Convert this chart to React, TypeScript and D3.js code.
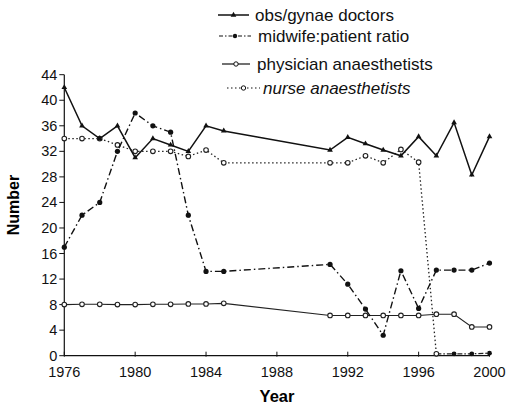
import React, { useEffect, useRef } from "react";
import * as d3 from "d3";

// values
const obsYears = [1976, 1977, 1978, 1979, 1980, 1981, 1982, 1983, 1984, 1985, 1991, 1992, 1993, 1994, 1995, 1996, 1997, 1998, 1999, 2000];
const obsValues = [42, 36, 34, 36, 31, 34, 33, 32, 36, 35.2, 32.2, 34.2, 33.2, 32.2, 31.3, 34.3, 31.3, 36.5, 28.3, 34.3];

const midwifeYears = [1976, 1977, 1978, 1979, 1980, 1981, 1982, 1983, 1984, 1985, 1991, 1992, 1993, 1994, 1995, 1996, 1997, 1998, 1999, 2000];
const midwifeValues = [17, 22, 24, 32, 38, 36, 35, 22, 13.2, 13.2, 14.3, 11.2, 7.3, 3.2, 13.3, 7.4, 13.4, 13.4, 13.4, 14.5];

const physicianYears = [1976, 1977, 1978, 1979, 1980, 1981, 1982, 1983, 1984, 1985, 1991, 1992, 1993, 1994, 1995, 1996, 1997, 1998, 1999, 2000];
const physicianValues = [8, 8.05, 8.05, 8, 8, 8.05, 8.05, 8.1, 8.1, 8.2, 6.3, 6.3, 6.3, 6.3, 6.3, 6.3, 6.5, 6.5, 4.5, 4.5];

const nurseYears = [1976, 1977, 1978, 1979, 1980, 1981, 1982, 1983, 1984, 1985, 1991, 1992, 1993, 1994, 1995, 1996, 1997];
const nurseValues = [34, 34, 34, 33, 32, 32, 32, 31.2, 32.2, 30.2, 30.2, 30.2, 31.3, 30.2, 32.3, 30.3, 0.3];

// unlabelled tail along zero
const tailYears = [1997, 1998, 1999, 2000];
const tailValues = [0.3, 0.3, 0.3, 0.4];

const xTicks = [1976, 1980, 1984, 1988, 1992, 1996, 2000];
const yTicks = [0, 4, 8, 12, 16, 20, 24, 28, 32, 36, 40, 44];

const legendLabels = ["obs/gynae doctors", "midwife:patient ratio", "physician anaesthetists", "nurse anaesthetists"];

const App = () => {
  const svgRef = useRef<SVGSVGElement>(null);

  useEffect(() => {
    const svg = d3.select(svgRef.current);
    svg.selectAll("*").remove();

    const width = 509;
    const height = 407;
    const font = "Arial, 'Liberation Sans', sans-serif";

    const x = d3.scaleLinear().domain([1976, 2000]).range([64.3, 489.5]);
    const y = d3.scaleLinear().domain([0, 44]).range([355.7, 74.7]);

    svg.attr("width", width).attr("height", height);

    // axes
    const xAxis = svg.append("g").attr("transform", `translate(0,${y(0)})`);
    xAxis.append("line").attr("x1", x(1976)).attr("x2", x(2000)).attr("stroke", "#111").attr("stroke-width", 1.2);
    xAxis.selectAll("line.tick").data(xTicks).enter().append("line")
      .attr("x1", d => x(d)).attr("x2", d => x(d)).attr("y1", -4).attr("y2", 1)
      .attr("stroke", "#111").attr("stroke-width", 1);
    xAxis.selectAll("text").data(xTicks).enter().append("text")
      .attr("x", d => x(d)).attr("y", 21)
      .attr("text-anchor", "middle")
      .style("font-family", font).style("font-size", "14.5px").style("fill", "#111")
      .text(d => d);

    const yAxis = svg.append("g").attr("transform", `translate(${x(1976)},0)`);
    yAxis.append("line").attr("y1", y(0)).attr("y2", y(44)).attr("stroke", "#111").attr("stroke-width", 1.2);
    yAxis.selectAll("line.tick").data(yTicks).enter().append("line")
      .attr("x1", -5).attr("x2", 0).attr("y1", d => y(d)).attr("y2", d => y(d))
      .attr("stroke", "#111").attr("stroke-width", 1);
    yAxis.selectAll("text").data(yTicks).enter().append("text")
      .attr("x", -7).attr("y", d => y(d) + 5)
      .attr("text-anchor", "end")
      .style("font-family", font).style("font-size", "14.5px").style("fill", "#111")
      .text(d => d);

    svg.append("text")
      .attr("x", 277).attr("y", 402)
      .attr("text-anchor", "middle")
      .style("font-family", font).style("font-size", "16.5px").style("font-weight", "bold")
      .text("Year");

    svg.append("text")
      .attr("transform", "translate(19,205) rotate(-90)")
      .attr("text-anchor", "middle")
      .style("font-family", font).style("font-size", "16px").style("font-weight", "bold")
      .text("Number");

    const line = d3.line<[number, number]>().x(d => x(d[0])).y(d => y(d[1]));
    const zip = (ys: number[], vs: number[]) => ys.map((yr, i) => [yr, vs[i]] as [number, number]);

    const tri = d3.symbol().type(d3.symbolTriangle).size(14);

    // physician anaesthetists
    const phys = zip(physicianYears, physicianValues);
    svg.append("path").attr("d", line(phys)).attr("fill", "none").attr("stroke", "#222").attr("stroke-width", 1.1);
    svg.selectAll("circle.phys").data(phys).enter().append("circle")
      .attr("cx", d => x(d[0])).attr("cy", d => y(d[1])).attr("r", 2.3)
      .attr("fill", "white").attr("stroke", "#222").attr("stroke-width", 1.1);

    // nurse anaesthetists
    const nurse = zip(nurseYears, nurseValues);
    svg.append("path").attr("d", line(nurse)).attr("fill", "none").attr("stroke", "#222")
      .attr("stroke-width", 1.3).attr("stroke-dasharray", "1.5,2.5");
    const tail = zip(tailYears, tailValues);
    svg.append("path").attr("d", line(tail)).attr("fill", "none").attr("stroke", "#222")
      .attr("stroke-width", 1.3).attr("stroke-dasharray", "5,2,1.5,2");
    svg.selectAll("circle.tail").data(tail.slice(1)).enter().append("circle")
      .attr("cx", d => x(d[0])).attr("cy", d => y(d[1])).attr("r", 2.4).attr("fill", "#111");
    svg.selectAll("circle.nurse").data(nurse).enter().append("circle")
      .attr("cx", d => x(d[0])).attr("cy", d => y(d[1])).attr("r", 2.3)
      .attr("fill", "white").attr("stroke", "#222").attr("stroke-width", 1.1);

    // midwife:patient ratio
    const mid = zip(midwifeYears, midwifeValues);
    svg.append("path").attr("d", line(mid)).attr("fill", "none").attr("stroke", "#111")
      .attr("stroke-width", 1.4).attr("stroke-dasharray", "7,3,1.5,3");
    svg.selectAll("circle.mid").data(mid).enter().append("circle")
      .attr("cx", d => x(d[0])).attr("cy", d => y(d[1])).attr("r", 2.6).attr("fill", "#111");

    // obs/gynae doctors
    const obs = zip(obsYears, obsValues);
    svg.append("path").attr("d", line(obs)).attr("fill", "none").attr("stroke", "#111").attr("stroke-width", 1.5);
    svg.selectAll("path.obs").data(obs).enter().append("path")
      .attr("d", tri).attr("transform", d => `translate(${x(d[0])},${y(d[1])})`).attr("fill", "#111");

    // legend
    const leg = svg.append("g");
    const rows = [
      { y: 15, x1: 218, x2: 249, tx: 255, dash: null, marker: "tri", italic: false },
      { y: 36, x1: 219, x2: 251, tx: 258, dash: "4,2,1.5,2", marker: "dot", italic: false },
      { y: 64, x1: 222, x2: 250, tx: 257, dash: null, marker: "open", italic: false },
      { y: 88, x1: 227, x2: 260, tx: 263, dash: "1.5,2.5", marker: "open", italic: true },
    ];
    rows.forEach((r, i) => {
      const g = leg.append("g");
      const ln = g.append("line").attr("x1", r.x1).attr("x2", r.x2).attr("y1", r.y).attr("y2", r.y)
        .attr("stroke", "#111").attr("stroke-width", i === 0 ? 1.5 : 1.2);
      if (r.dash) ln.attr("stroke-dasharray", r.dash);
      const cx = (r.x1 + r.x2) / 2;
      if (r.marker === "tri") g.append("path").attr("d", tri).attr("transform", `translate(${cx},${r.y})`).attr("fill", "#111");
      if (r.marker === "dot") g.append("circle").attr("cx", cx).attr("cy", r.y).attr("r", 2.2).attr("fill", "#111");
      if (r.marker === "open") g.append("circle").attr("cx", cx).attr("cy", r.y).attr("r", 2.2)
        .attr("fill", "white").attr("stroke", "#111").attr("stroke-width", 1);
      g.append("text").attr("x", r.tx).attr("y", r.y + 6)
        .style("font-family", font).style("font-size", "17px").style("fill", "#111")
        .style("font-style", r.italic ? "italic" : "normal")
        .text(legendLabels[i]);
    });
  }, []);

  return <svg ref={svgRef} style={{ position: "absolute", left: 0, top: 0, background: "white" }} />;
};

export default App;
